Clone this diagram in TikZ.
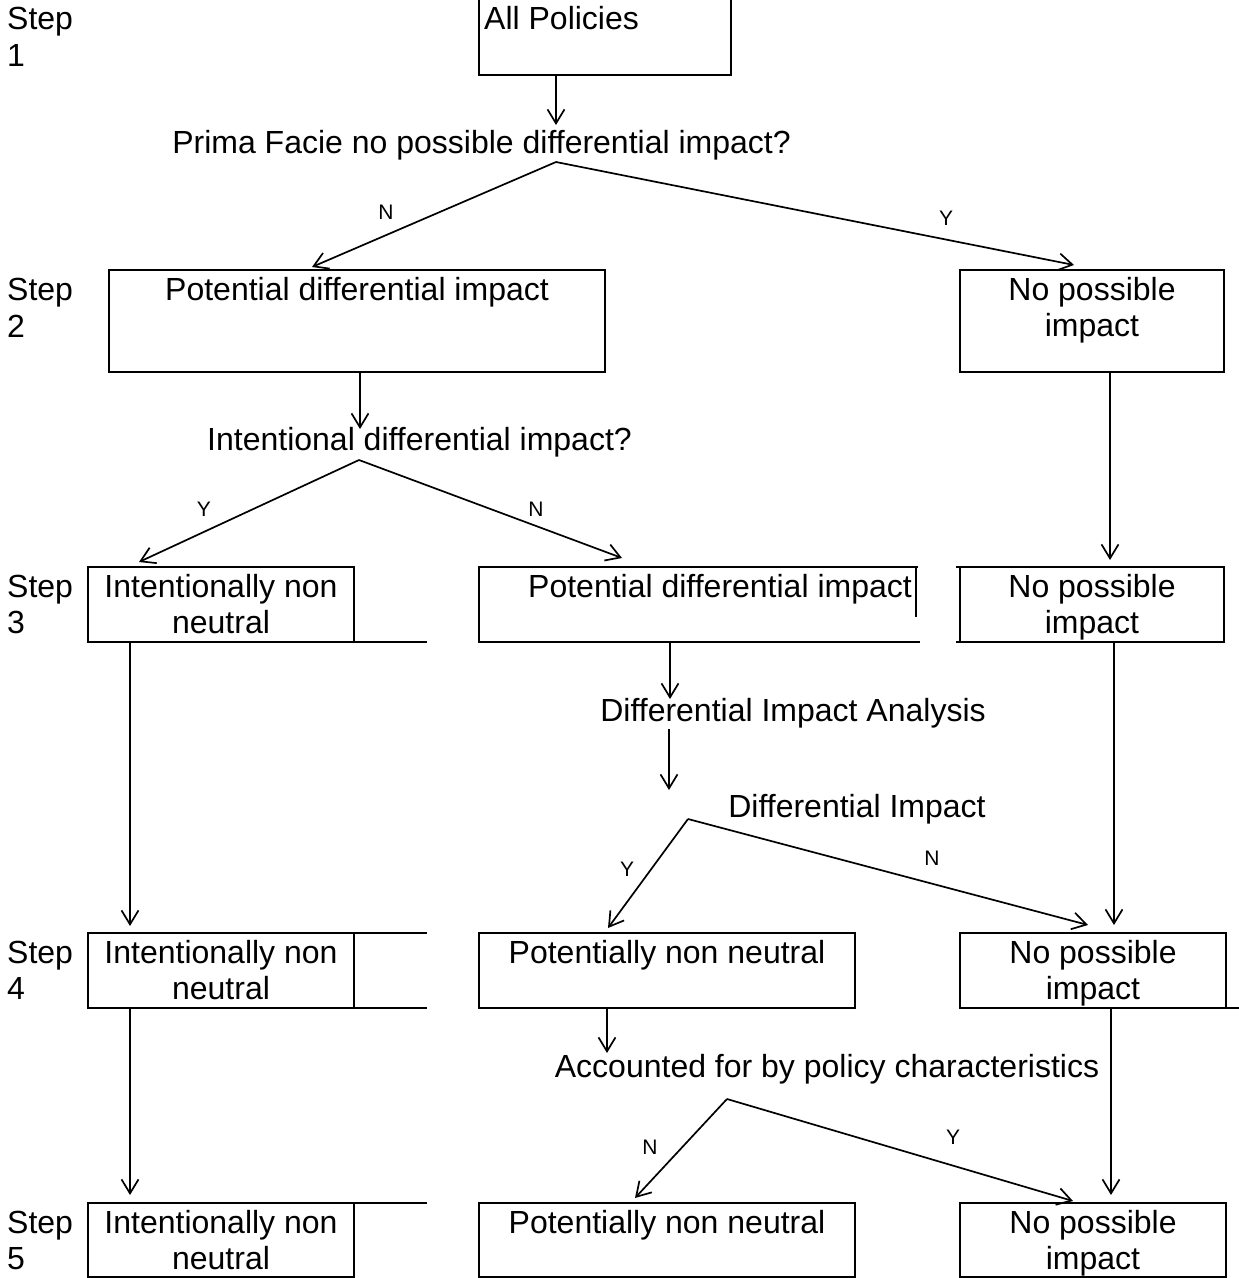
\documentclass[tikz,border=0pt]{standalone}
\usepackage{fontspec}
\setmainfont{Liberation Sans}
\usetikzlibrary{arrows.meta}
\begin{document}
\begin{tikzpicture}[x=1pt, y=-1pt,
  pbox/.style={draw, line width=2.6pt, inner sep=0pt, outer sep=0pt, anchor=north west},
  boxline/.style={line width=2.6pt},
  arr/.style={line width=1.7pt, -{Straight Barb[length=14pt, width=17pt]}},
  txt/.style={inner sep=0pt, font=\fontsize{32}{37}\selectfont},
  yn/.style={inner sep=0pt, font=\fontsize{21}{25}\selectfont}]

\useasboundingbox (0,0) rectangle (1239,1278);

% ---------- boxes ----------
\node[pbox, minimum width=252pt, minimum height=77pt] (b1) at (479,-2) {};
\node[pbox, minimum width=496pt, minimum height=102pt] (b2l) at (109,270) {};
\node[pbox, minimum width=264pt, minimum height=102pt] (b2r) at (960,270) {};

\node[pbox, minimum width=266pt, minimum height=75pt] (b3a) at (88,567) {};
\node[pbox, draw=none, minimum width=437pt, minimum height=75pt] (b3b) at (479,567) {};
\node[pbox, minimum width=264pt, minimum height=75pt] (b3c) at (960,567) {};

\node[pbox, minimum width=266pt, minimum height=75pt] (b4a) at (88,933) {};
\node[pbox, minimum width=376pt, minimum height=75pt] (b4b) at (479,933) {};
\node[pbox, minimum width=266pt, minimum height=75pt] (b4c) at (960,933) {};

\node[pbox, minimum width=266pt, minimum height=74pt] (b5a) at (88,1203) {};
\node[pbox, minimum width=376pt, minimum height=74pt] (b5b) at (479,1203) {};
\node[pbox, minimum width=266pt, minimum height=74pt] (b5c) at (960,1203) {};

% partial / extended box lines
\draw[boxline] (b3a.south east) -- ++(73,0);
\draw[boxline] ([xshift=2pt]b3b.north east) -- (b3b.north west) -- (b3b.south west) -- ([xshift=4pt]b3b.south east);
\draw[boxline] (b3b.north east) -- ([yshift=25pt]b3b.south east);
\draw[boxline] (b3c.north west) -- ++(-4,0);
\draw[boxline] (b3c.south west) -- ++(-4,0);
\draw[boxline] (b4a.north east) -- ++(73,0);
\draw[boxline] (b4a.south east) -- ++(73,0);
\draw[boxline] (b4c.south east) -- ++(16,0);
\draw[boxline] (b5a.north east) -- ++(73,0);

% ---------- step labels ----------
\node[txt, anchor=base west] (s1a) at (7,29) {Step};
\node[txt, anchor=base west] (s1b) at (7,66) {1};
\node[txt, anchor=base west] (s2a) at (7,300) {Step};
\node[txt, anchor=base west] (s2b) at (7,337) {2};
\node[txt, anchor=base west] (s3a) at (7,597) {Step};
\node[txt, anchor=base west] (s3b) at (7,633) {3};
\node[txt, anchor=base west] (s4a) at (7,963) {Step};
\node[txt, anchor=base west] (s4b) at (7,999) {4};
\node[txt, anchor=base west] (s5a) at (7,1233) {Step};
\node[txt, anchor=base west] (s5b) at (7,1269) {5};

% ---------- box texts ----------
\node[txt, anchor=base west] (tb1) at (484,29) {All Policies};
\node[txt, anchor=base] (tb2l) at (357,300) {Potential differential impact};
\node[txt, anchor=base] (tb2r1) at (1092,300) {No possible};
\node[txt, anchor=base] (tb2r2) at (1092,336) {impact};

\node[txt, anchor=base] (tb3a1) at (221,597) {Intentionally non};
\node[txt, anchor=base] (tb3a2) at (221,633) {neutral};
\node[txt, anchor=base] (tb3b) at (720,597) {Potential differential impact};
\node[txt, anchor=base] (tb3c1) at (1092,597) {No possible};
\node[txt, anchor=base] (tb3c2) at (1092,633) {impact};

\node[txt, anchor=base] (tb4a1) at (221,963) {Intentionally non};
\node[txt, anchor=base] (tb4a2) at (221,999) {neutral};
\node[txt, anchor=base] (tb4b) at (667,963) {Potentially non neutral};
\node[txt, anchor=base] (tb4c1) at (1093,963) {No possible};
\node[txt, anchor=base] (tb4c2) at (1093,999) {impact};

\node[txt, anchor=base] (tb5a1) at (221,1233) {Intentionally non};
\node[txt, anchor=base] (tb5a2) at (221,1269) {neutral};
\node[txt, anchor=base] (tb5b) at (667,1233) {Potentially non neutral};
\node[txt, anchor=base] (tb5c1) at (1093,1233) {No possible};
\node[txt, anchor=base] (tb5c2) at (1093,1269) {impact};

% ---------- questions ----------
\node[txt, anchor=base] (q1) at (481.5,153) {Prima Facie no possible differential impact?};
\node[txt, anchor=base] (q2) at (419.5,450) {Intentional differential impact?};
\node[txt, anchor=base] (q3a) at (793,721) {Differential Impact Analysis};
\node[txt, anchor=base] (q3b) at (857,817) {Differential Impact};
\node[txt, anchor=base] (q4) at (827,1077) {Accounted for by policy characteristics};

% ---------- branch points and arrow tips ----------
\coordinate (p1) at (556,162);
\coordinate (p2) at (359,460);
\coordinate (p3) at (688,819);
\coordinate (p4) at (727,1099);
\coordinate (s5) at (669,729);

\coordinate (t1) at (556,125);
\coordinate (t2n) at (312,267);
\coordinate (t2y) at (1074,265);
\coordinate (t3) at (360,429);
\coordinate (t4y) at (139,562);
\coordinate (t4n) at (622,558);
\coordinate (t4r) at (1110,560);
\coordinate (t5l) at (130,926);
\coordinate (t5m) at (670,699);
\coordinate (t5m2) at (669,790);
\coordinate (t6y) at (608,928);
\coordinate (t6n) at (1088,925);
\coordinate (t6r) at (1114,925);
\coordinate (t7l) at (130,1195);
\coordinate (t7m) at (607,1053);
\coordinate (t8n) at (635,1198);
\coordinate (t8y) at (1073,1201);
\coordinate (t8r) at (1111,1195);

% ---------- connectors ----------
\draw[arr] ([xshift=77pt]b1.south west) -- (t1);
\draw[arr] (p1) -- (t2n);
\draw[arr] (p1) -- (t2y);
\draw[arr] ([xshift=251pt]b2l.south west) -- (t3);
\draw[arr] (p2) -- (t4y);
\draw[arr] (p2) -- (t4n);
\draw[arr] ([xshift=150pt]b2r.south west) -- (t4r);

\draw[arr] ([xshift=42pt]b3a.south west) -- (t5l);
\draw[arr] ([xshift=191pt]b3b.south west) -- (t5m);
\draw[arr] (s5) -- (t5m2);
\draw[arr] (p3) -- (t6y);
\draw[arr] (p3) -- (t6n);
\draw[arr] ([xshift=154pt]b3c.south west) -- (t6r);

\draw[arr] ([xshift=42pt]b4a.south west) -- (t7l);
\draw[arr] ([xshift=128pt]b4b.south west) -- (t7m);
\draw[arr] (p4) -- (t8n);
\draw[arr] (p4) -- (t8y);
\draw[arr] ([xshift=151pt]b4c.south west) -- (t8r);

% ---------- Y / N labels ----------
\node[yn] (l1n) at (386,212) {N};
\node[yn] (l1y) at (946,218) {Y};
\node[yn] (l2y) at (204,509) {Y};
\node[yn] (l2n) at (536,509) {N};
\node[yn] (l3y) at (627,869) {Y};
\node[yn] (l3n) at (932,858) {N};
\node[yn] (l4n) at (650,1147) {N};
\node[yn] (l4y) at (953,1137) {Y};

\end{tikzpicture}
\end{document}
